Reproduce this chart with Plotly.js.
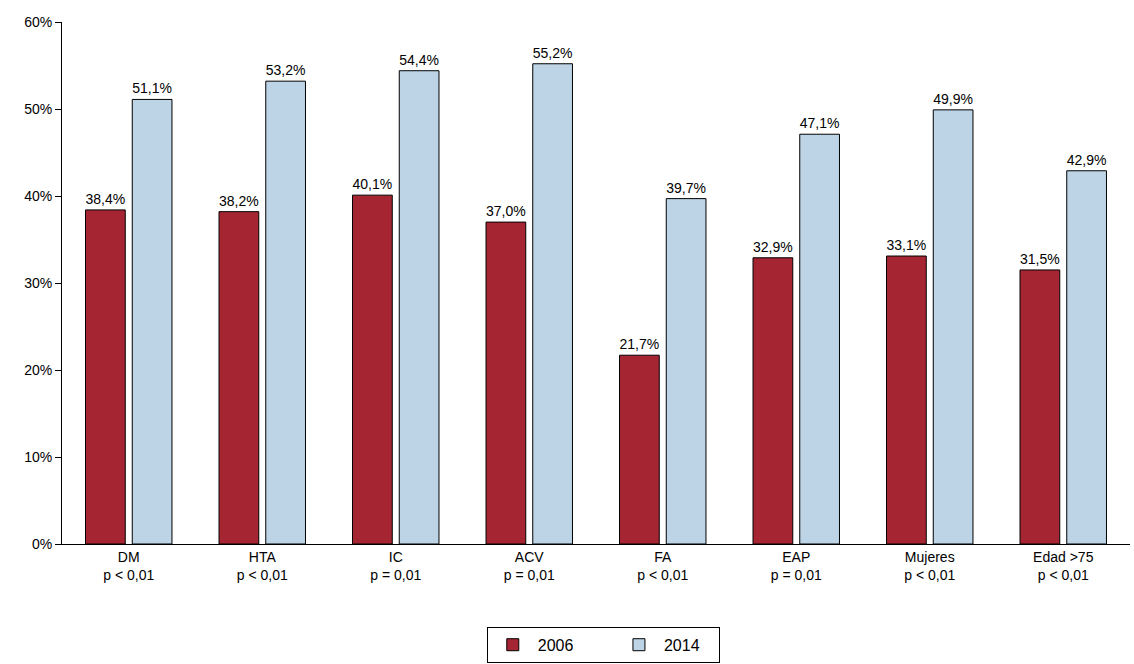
<!DOCTYPE html>
<html>
<head>
<meta charset="utf-8">
<script src="https://cdn.plot.ly/plotly-3.0.1.min.js"></script>
<style>body{margin:0;background:#fff}</style>
</head>
<body>
<div id="chart" style="width:1134px;height:664px"></div>
<script>
var categories = ["DM", "HTA", "IC", "ACV", "FA", "EAP", "Mujeres", "Edad >75"];
var pvalues = ["p < 0,01", "p < 0,01", "p = 0,01", "p = 0,01", "p < 0,01", "p = 0,01", "p < 0,01", "p < 0,01"];
var y2006 = [38.4, 38.2, 40.1, 37.0, 21.7, 32.9, 33.1, 31.5];
var y2014 = [51.1, 53.2, 54.4, 55.2, 39.7, 47.1, 49.9, 42.9];

var xlabels = categories.map(function(c, i){ return c + "<br>" + pvalues[i]; });
function pct(arr){ return arr.map(function(v){ return v.toFixed(1).replace(".", ",") + "%"; }); }

var common = {
  type: 'bar', x: xlabels, textposition: 'outside', cliponaxis: false,
  textfont: {family: 'Liberation Sans, Arial', size: 14, color: '#000'}
};
var data = [
  Object.assign({}, common, {name: '2006        ', y: y2006, text: pct(y2006),
    marker: {color: '#a52632', line: {color: '#000', width: 1}}}),
  Object.assign({}, common, {name: '2014   ', y: y2014, text: pct(y2014),
    marker: {color: '#bcd4e6', line: {color: '#000', width: 1}}})
];

var layout = {
  margin: {l: 62, r: 4, t: 22, b: 120},
  font: {family: 'Liberation Sans, Arial', size: 14, color: '#000'},
  barmode: 'group', bargap: 0.3, bargroupgap: 0.15,
  showlegend: true,
  legend: {orientation: 'h', x: 0.532, xref: 'container', xanchor: 'center',
    y: 0.056, yref: 'container', yanchor: 'top',
    bordercolor: '#000', borderwidth: 1, font: {size: 16}, itemwidth: 40},
  xaxis: {showline: true, linecolor: '#000', ticks: '', tickfont: {size: 14}},
  yaxis: {range: [0, 60], dtick: 10, ticksuffix: '%', showgrid: false, zeroline: false,
    showline: true, linecolor: '#000', ticks: 'outside', ticklen: 6, tickcolor: '#000'},
  plot_bgcolor: '#fff', paper_bgcolor: '#fff'
};
Plotly.newPlot('chart', data, layout, {displayModeBar: false});
</script>
</body>
</html>
